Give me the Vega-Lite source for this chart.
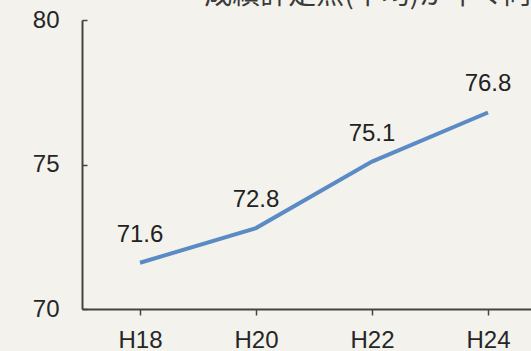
{
  "$schema": "https://vega.github.io/schema/vega-lite/v6.json",
  "autosize": "none",
  "width": 449,
  "height": 289,
  "padding": {"left": 82, "top": 20, "right": 0, "bottom": 42},
  "background": "#f3f2ec",
  "title": {
    "text": "成績評定点(平均)が年々向上",
    "anchor": "start",
    "dx": 172,
    "offset": -30,
    "baseline": "bottom",
    "font": "Noto Sans CJK JP",
    "fontSize": 28,
    "fontWeight": "normal",
    "color": "#3a3a3a"
  },
  "data": {
    "values": [
      {"year": "H18", "score": 71.6},
      {"year": "H20", "score": 72.8},
      {"year": "H22", "score": 75.1},
      {"year": "H24", "score": 76.8}
    ]
  },
  "encoding": {
    "x": {
      "field": "year",
      "type": "ordinal",
      "sort": null,
      "scale": {"range": [0, 464], "paddingInner": 0, "paddingOuter": 0},
      "axis": {
        "title": null,
        "labelAngle": 0,
        "labelFont": "Liberation Sans",
        "labelFontSize": 24,
        "labelColor": "#262626",
        "labelPadding": 13,
        "tickSize": 6,
        "tickColor": "#444",
        "tickWidth": 1.5,
        "bandPosition": 0,
        "domainColor": "#444",
        "domainWidth": 2,
        "grid": false
      }
    },
    "y": {
      "field": "score",
      "type": "quantitative",
      "scale": {"domain": [70, 80], "zero": false},
      "axis": {
        "title": null,
        "values": [70, 75, 80],
        "labelFont": "Liberation Sans",
        "labelFontSize": 24,
        "labelColor": "#262626",
        "labelPadding": 28,
        "tickSize": -5,
        "tickColor": "#444",
        "tickWidth": 1.5,
        "domainColor": "#444",
        "domainWidth": 2,
        "grid": false
      }
    }
  },
  "layer": [
    {
      "mark": {"type": "line", "color": "#5b8bc5", "strokeWidth": 4}
    },
    {
      "mark": {
        "type": "text",
        "dy": -28,
        "font": "Liberation Sans",
        "fontSize": 24,
        "color": "#222222"
      },
      "encoding": {"text": {"field": "score", "type": "quantitative", "format": ".1f"}}
    }
  ],
  "config": {"view": {"stroke": null}}
}
